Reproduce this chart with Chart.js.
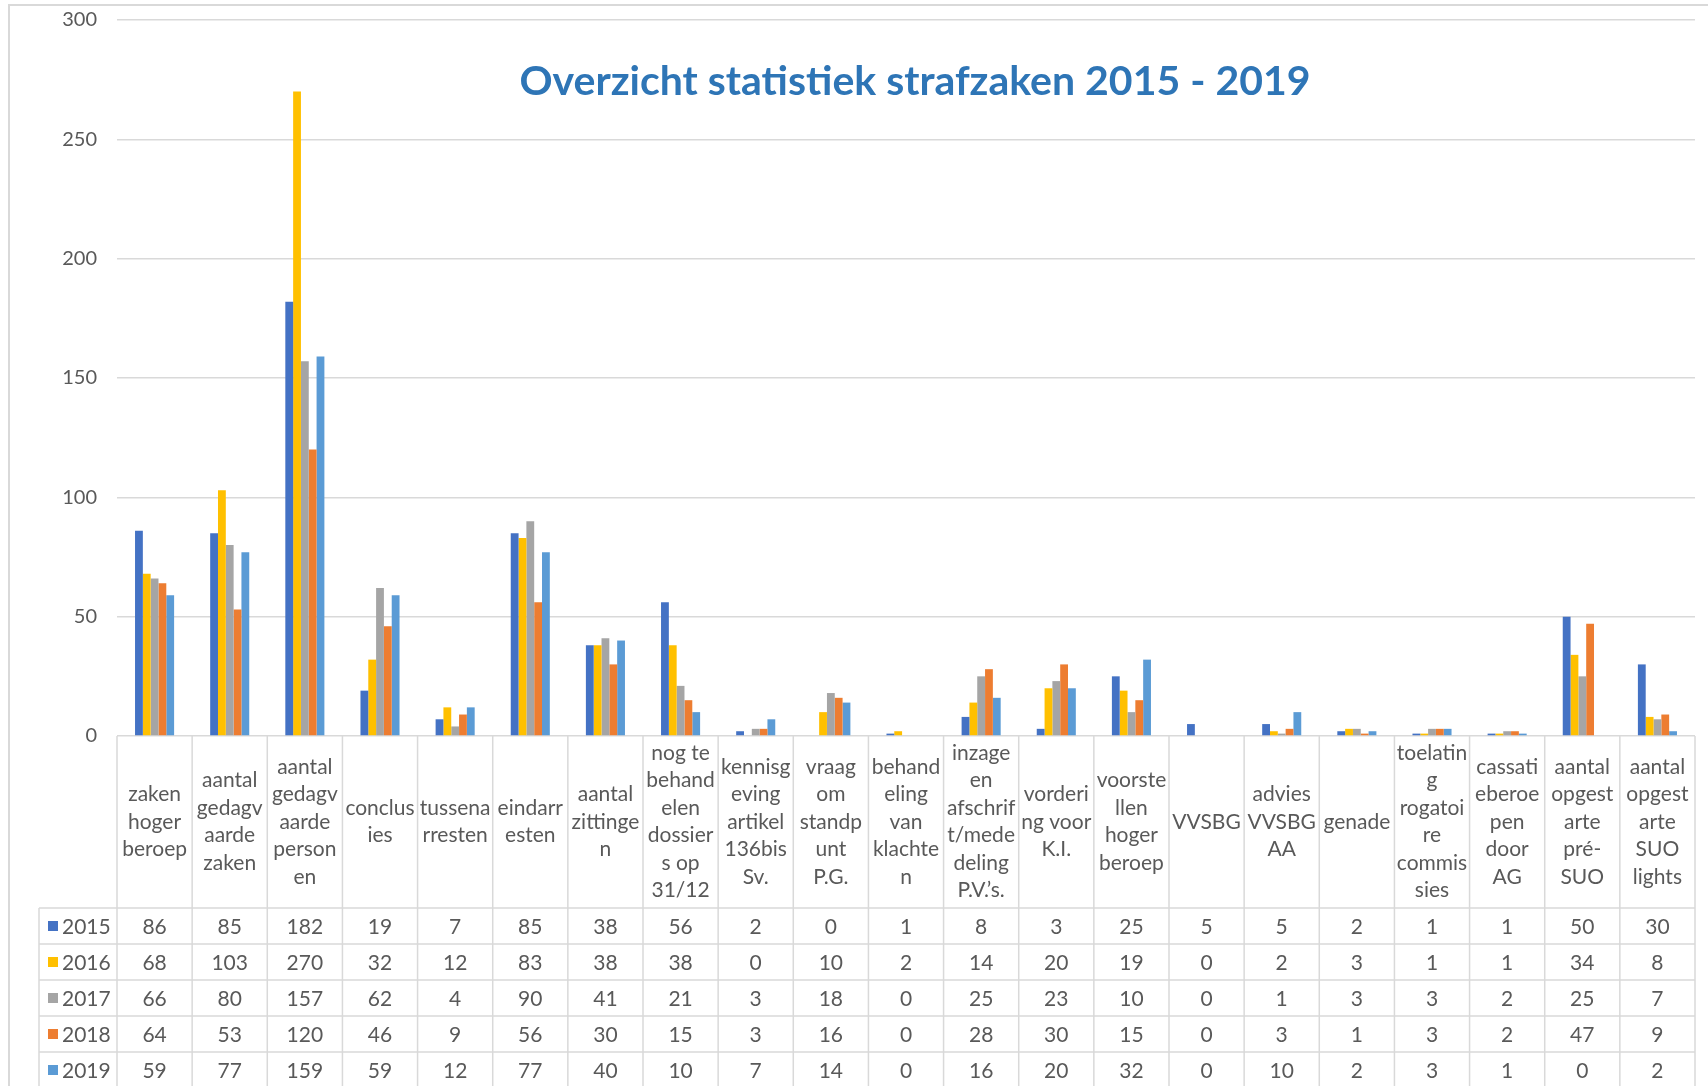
<!DOCTYPE html>
<html>

<head>
    <meta charset="utf-8" />
    <title>Overzicht statistiek strafzaken 2015 - 2019</title>
    <script src="https://cdn.jsdelivr.net/npm/chart.js"></script>
    <style>
        body { margin: 0; background: #ffffff; }
        #myChart { display: block; }
    </style>
</head>

<body>
    <canvas id="myChart" width="1708" height="1086"></canvas>

    <script type="text/javascript">
        // category labels, broken in lines the same way as the table header
        const categories = [
            ["zaken", "hoger", "beroep"],
            ["aantal", "gedagv", "aarde", "zaken"],
            ["aantal", "gedagv", "aarde", "person", "en"],
            ["conclus", "ies"],
            ["tussena", "rresten"],
            ["eindarr", "esten"],
            ["aantal", "zittinge", "n"],
            ["nog te", "behand", "elen", "dossier", "s op", "31/12"],
            ["kennisg", "eving", "artikel", "136bis", "Sv."],
            ["vraag", "om", "standp", "unt", "P.G."],
            ["behand", "eling", "van", "klachte", "n"],
            ["inzage", "en", "afschrif", "t/mede", "deling", "P.V.\u2019s."],
            ["vorderi", "ng voor", "K.I."],
            ["voorste", "llen", "hoger", "beroep"],
            ["VVSBG"],
            ["advies", "VVSBG", "AA"],
            ["genade"],
            ["toelatin", "g", "rogatoi", "re", "commis", "sies"],
            ["cassati", "eberoe", "pen", "door", "AG"],
            ["aantal", "opgest", "arte", "pré-", "SUO"],
            ["aantal", "opgest", "arte", "SUO", "lights"]
        ];

        const years = ["2015", "2016", "2017", "2018", "2019"];
        const yearColors = ["#4472C4", "#FFC000", "#A5A5A5", "#ED7D31", "#5B9BD5"];

        const values2015 = [86, 85, 182, 19, 7, 85, 38, 56, 2, 0, 1, 8, 3, 25, 5, 5, 2, 1, 1, 50, 30];
        const values2016 = [68, 103, 270, 32, 12, 83, 38, 38, 0, 10, 2, 14, 20, 19, 0, 2, 3, 1, 1, 34, 8];
        const values2017 = [66, 80, 157, 62, 4, 90, 41, 21, 3, 18, 0, 25, 23, 10, 0, 1, 3, 3, 2, 25, 7];
        const values2018 = [64, 53, 120, 46, 9, 56, 30, 15, 3, 16, 0, 28, 30, 15, 0, 3, 1, 3, 2, 47, 9];
        const values2019 = [59, 77, 159, 59, 12, 77, 40, 10, 7, 14, 0, 16, 20, 32, 0, 10, 2, 3, 1, 0, 2];

        const yMin = 0;
        const yMax = 300;
        const yStep = 50;

        const titleText = "Overzicht statistiek strafzaken 2015 - 2019";

        const seriesValues = [values2015, values2016, values2017, values2018, values2019];

        Chart.defaults.font.family = "Lato, 'Open Sans', sans-serif";
        Chart.defaults.color = "#595959";

        //draws the frame, the title and the data table under the axis
        const tablePlugin = {
            id: 'dataTable',
            beforeDraw(chart) {
                const ctx = chart.ctx;
                ctx.save();
                ctx.strokeStyle = "#d9d9d9";
                ctx.lineWidth = 2;
                ctx.beginPath();
                ctx.moveTo(9, chart.height);
                ctx.lineTo(9, 5);
                ctx.lineTo(chart.width, 5);
                ctx.stroke();
                ctx.restore();
            },
            afterDraw(chart) {
                const ctx = chart.ctx;
                const xs = chart.scales.x;
                const area = chart.chartArea;
                const headerH = 172;
                const rowH = 36;
                const half = (xs.getPixelForValue(1) - xs.getPixelForValue(0)) / 2;
                const right = xs.getPixelForValue(categories.length - 1) + half;
                const rowTop = area.bottom + headerH;
                const bottom = rowTop + rowH * years.length;
                const headLeft = area.left - 78;

                ctx.save();
                ctx.strokeStyle = "#d9d9d9";
                ctx.lineWidth = 1.5;
                ctx.beginPath();
                for (let i = 0; i <= categories.length; i++) {
                    const x = xs.getPixelForValue(i) - half;
                    ctx.moveTo(x, area.bottom);
                    ctx.lineTo(x, bottom);
                }
                ctx.moveTo(headLeft, rowTop);
                ctx.lineTo(headLeft, bottom);
                for (let r = 0; r <= years.length; r++) {
                    ctx.moveTo(headLeft, rowTop + r * rowH);
                    ctx.lineTo(right, rowTop + r * rowH);
                }
                ctx.stroke();

                ctx.font = "21px Lato";
                ctx.textBaseline = "middle";
                for (let r = 0; r < years.length; r++) {
                    const cy = rowTop + r * rowH + rowH / 2;
                    ctx.fillStyle = yearColors[r];
                    ctx.fillRect(headLeft + 9, cy - 5, 10, 10);
                    ctx.fillStyle = "#595959";
                    ctx.textAlign = "left";
                    ctx.fillText(years[r], headLeft + 23, cy + 1);
                    ctx.textAlign = "center";
                    seriesValues[r].forEach((v, i) => {
                        ctx.fillText(String(v), xs.getPixelForValue(i), cy + 1);
                    });
                }

                // title sits inside the plot area
                ctx.font = "bold 41px Lato";
                ctx.fillStyle = "#2E75B6";
                ctx.textAlign = "center";
                ctx.fillText(titleText, 915, 82);
                ctx.restore();
            }
        };

        const data = {
            labels: categories,
            datasets: years.map((y, i) => ({
                label: y,
                data: seriesValues[i],
                backgroundColor: yearColors[i],
                barPercentage: 1,
                categoryPercentage: 0.52
            }))
        };

        const ctx = document.getElementById('myChart');
        const chart = new Chart(ctx, {
            type: 'bar',
            data: data,
            plugins: [tablePlugin],
            options: {
                responsive: false,
                animation: false,
                layout: { padding: { top: 20, right: 13, left: 0, bottom: 0 } },
                plugins: {
                    legend: { display: false },
                    tooltip: { enabled: false }
                },
                scales: {
                    x: {
                        grid: { display: false, drawTicks: false },
                        border: { display: false },
                        ticks: {
                            autoSkip: false,
                            maxRotation: 0,
                            padding: 17,
                            crossAlign: 'center',
                            color: "#595959",
                            font: { size: 21, lineHeight: 1.31 }
                        },
                        afterFit(scale) { scale.height = 350; }
                    },
                    y: {
                        min: yMin,
                        max: yMax,
                        grid: { color: "#d9d9d9", lineWidth: 1.5, drawTicks: false },
                        border: { display: false },
                        ticks: {
                            stepSize: yStep,
                            padding: 20,
                            color: "#595959",
                            font: { size: 20 }
                        },
                        afterFit(scale) {
                            scale.width = 117;
                            scale.paddingTop = 0;
                            scale.paddingBottom = 0;
                        }
                    }
                }
            }
        });
    </script>

</body>

</html>
